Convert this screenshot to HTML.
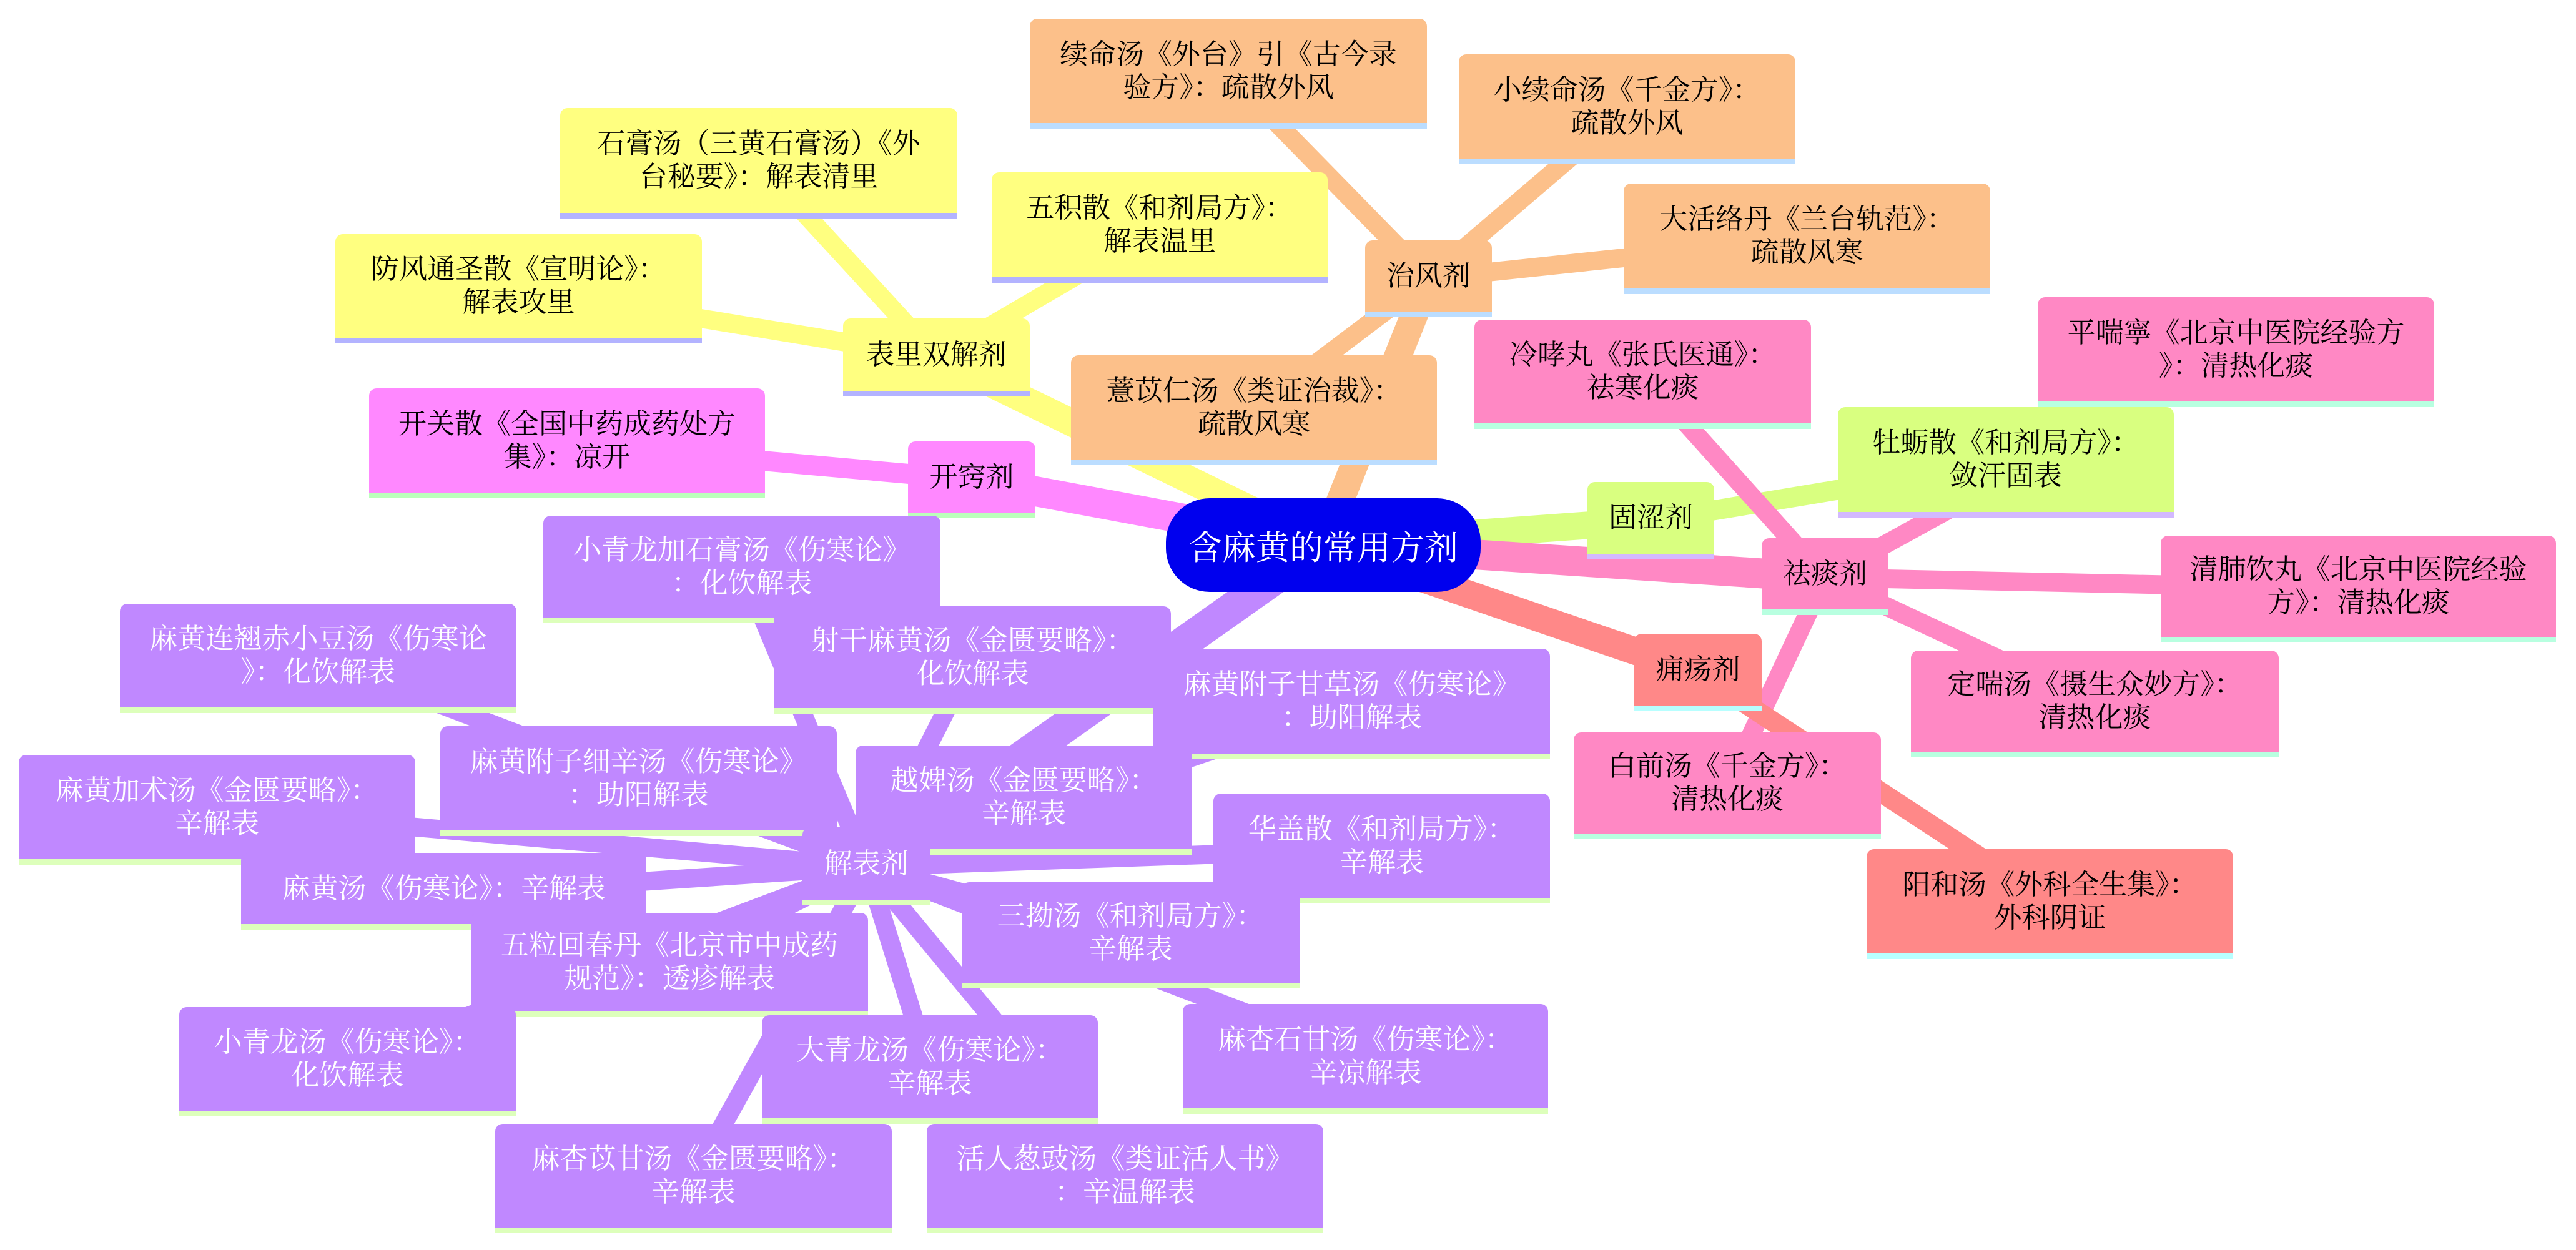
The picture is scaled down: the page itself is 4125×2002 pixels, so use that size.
<!DOCTYPE html>
<html><head><meta charset="utf-8">
<style>
html,body{margin:0;padding:0;background:#fff;}
body{width:4125px;height:2002px;position:relative;overflow:hidden;font-family:"Liberation Serif","Noto Serif CJK SC",serif;}
.n{position:absolute;box-sizing:border-box;display:flex;align-items:center;justify-content:center;text-align:center;font-size:45px;line-height:53px;color:#000;border-radius:12px 12px 0 0;border-bottom:9px solid;padding:0 8px;}
.y{background:#ffff80;border-color:#b3b3ff;}
.o{background:#fcc08a;border-color:#bbddff;}
.m{background:#ff88ff;border-color:#bbffbb;}
.p{background:#c088ff;border-color:#ddffbb;color:#fff;}
.l{background:#d9ff80;border-color:#d3b9ff;}
.k{background:#ff88c4;border-color:#b8ffe0;}
.s{background:#ff8888;border-color:#b8ffff;}
</style></head><body>
<svg width="4125" height="2002" style="position:absolute;left:0;top:0">
<g stroke-linecap="butt" fill="none">
<!-- center edges -->
<line x1="2118" y1="872" x2="1500" y2="572" stroke="#ffff80" stroke-width="44"/>
<line x1="2118" y1="872" x2="2288" y2="446" stroke="#fcc08a" stroke-width="44"/>
<line x1="2118" y1="872" x2="1556" y2="768" stroke="#ff88ff" stroke-width="48"/>
<line x1="2118" y1="872" x2="1388" y2="1388" stroke="#c088ff" stroke-width="52"/>
<line x1="2118" y1="872" x2="2644" y2="834" stroke="#d9ff80" stroke-width="44"/>
<line x1="2118" y1="872" x2="2922" y2="925" stroke="#ff88c4" stroke-width="48"/>
<line x1="2118" y1="872" x2="2719" y2="1077" stroke="#ff8888" stroke-width="44"/>
<!-- 表里 -->
<g stroke="#ffff80" stroke-width="30">
<line x1="1500" y1="572" x2="830" y2="462"/>
<line x1="1500" y1="572" x2="1215" y2="262"/>
<line x1="1500" y1="572" x2="1857" y2="364"/>
</g>
<g stroke="#fcc08a" stroke-width="30">
<line x1="2288" y1="446" x2="1967" y2="118"/>
<line x1="2288" y1="446" x2="2605" y2="175"/>
<line x1="2288" y1="446" x2="2893" y2="382"/>
<line x1="2288" y1="446" x2="2008" y2="657"/>
</g>
<line x1="1556" y1="768" x2="908" y2="710" stroke="#ff88ff" stroke-width="32"/>
<line x1="2644" y1="834" x2="3212" y2="740" stroke="#d9ff80" stroke-width="32"/>
<g stroke="#ff88c4" stroke-width="30">
<line x1="2922" y1="925" x2="2630" y2="600"/>
<line x1="2922" y1="925" x2="3580" y2="564"/>
<line x1="2922" y1="925" x2="3776" y2="943"/>
<line x1="2922" y1="925" x2="3354" y2="1127"/>
<line x1="2922" y1="925" x2="2766" y2="1258"/>
</g>
<line x1="2719" y1="1077" x2="3281" y2="1445" stroke="#ff8888" stroke-width="32"/>
<g stroke="#c088ff" stroke-width="30">
<line x1="1388" y1="1388" x2="1188" y2="910"/>
<line x1="1388" y1="1388" x2="510" y2="1054"/>
<line x1="1388" y1="1388" x2="1557" y2="1055"/>
<line x1="1388" y1="1388" x2="2164" y2="1127"/>
<line x1="1388" y1="1388" x2="1022" y2="1251"/>
<line x1="1388" y1="1388" x2="347" y2="1297"/>
<line x1="1388" y1="1388" x2="1640" y2="1281"/>
<line x1="1388" y1="1388" x2="2212" y2="1359"/>
<line x1="1388" y1="1388" x2="710" y2="1433"/>
<line x1="1388" y1="1388" x2="1810" y2="1503"/>
<line x1="1388" y1="1388" x2="1072" y2="1545"/>
<line x1="1388" y1="1388" x2="556" y2="1700"/>
<line x1="1388" y1="1388" x2="1489" y2="1713"/>
<line x1="1388" y1="1388" x2="2186" y2="1696"/>
<line x1="1388" y1="1388" x2="1110" y2="1887"/>
<line x1="1388" y1="1388" x2="1801" y2="1887"/>
</g>
</g>
</svg>

<!-- yellow -->
<div class="n y" style="left:537px;top:375px;width:587px;height:175px">防风通圣散《宣明论》：<br>解表攻里</div>
<div class="n y" style="left:897px;top:173px;width:636px;height:177px">石膏汤（三黄石膏汤）《外<br>台秘要》：解表清里</div>
<div class="n y" style="left:1588px;top:276px;width:538px;height:177px">五积散《和剂局方》：<br>解表温里</div>
<div class="n y" style="left:1350px;top:510px;width:299px;height:125px">表里双解剂</div>
<!-- orange -->
<div class="n o" style="left:1649px;top:30px;width:636px;height:176px">续命汤《外台》引《古今录<br>验方》：疏散外风</div>
<div class="n o" style="left:2336px;top:87px;width:539px;height:176px">小续命汤《千金方》：<br>疏散外风</div>
<div class="n o" style="left:2600px;top:294px;width:587px;height:177px">大活络丹《兰台轨范》：<br>疏散风寒</div>
<div class="n o" style="left:1715px;top:569px;width:586px;height:176px">薏苡仁汤《类证治裁》：<br>疏散风寒</div>
<div class="n o" style="left:2186px;top:385px;width:203px;height:123px">治风剂</div>
<!-- magenta -->
<div class="n m" style="left:591px;top:622px;width:634px;height:176px">开关散《全国中药成药处方<br>集》：凉开</div>
<div class="n m" style="left:1454px;top:707px;width:204px;height:123px">开窍剂</div>
<!-- pink -->
<div class="n k" style="left:2361px;top:512px;width:539px;height:175px">冷哮丸《张氏医通》：<br>祛寒化痰</div>
<div class="n k" style="left:3263px;top:476px;width:635px;height:176px">平喘寧《北京中医院经验方<br>》：清热化痰</div>
<div class="n k" style="left:3460px;top:858px;width:633px;height:171px">清肺饮丸《北京中医院经验<br>方》：清热化痰</div>
<div class="n k" style="left:3060px;top:1042px;width:589px;height:171px">定喘汤《摄生众妙方》：<br>清热化痰</div>
<div class="n k" style="left:2520px;top:1173px;width:492px;height:171px">白前汤《千金方》：<br>清热化痰</div>
<div class="n k" style="left:2821px;top:862px;width:203px;height:123px">祛痰剂</div>
<!-- lime -->
<div class="n l" style="left:2943px;top:652px;width:538px;height:177px">牡蛎散《和剂局方》：<br>敛汗固表</div>
<div class="n l" style="left:2542px;top:772px;width:203px;height:124px">固涩剂</div>
<!-- salmon -->
<div class="n s" style="left:2617px;top:1015px;width:204px;height:124px">痈疡剂</div>
<div class="n s" style="left:2989px;top:1360px;width:587px;height:176px">阳和汤《外科全生集》：<br>外科阴证</div>
<!-- purple -->
<div class="n p" style="left:870px;top:826px;width:636px;height:172px">小青龙加石膏汤《伤寒论》<br>：化饮解表</div>
<div class="n p" style="left:192px;top:967px;width:635px;height:175px">麻黄连翘赤小豆汤《伤寒论<br>》：化饮解表</div>
<div class="n p" style="left:1240px;top:971px;width:635px;height:172px">射干麻黄汤《金匮要略》：<br>化饮解表</div>
<div class="n p" style="left:1847px;top:1039px;width:635px;height:177px">麻黄附子甘草汤《伤寒论》<br>：助阳解表</div>
<div class="n p" style="left:705px;top:1163px;width:635px;height:176px">麻黄附子细辛汤《伤寒论》<br>：助阳解表</div>
<div class="n p" style="left:30px;top:1209px;width:635px;height:176px">麻黄加术汤《金匮要略》：<br>辛解表</div>
<div class="n p" style="left:1370px;top:1194px;width:539px;height:175px">越婢汤《金匮要略》：<br>辛解表</div>
<div class="n p" style="left:1943px;top:1271px;width:539px;height:176px">华盖散《和剂局方》：<br>辛解表</div>
<div class="n p" style="left:1285px;top:1325px;width:205px;height:125px">解表剂</div>
<div class="n p" style="left:386px;top:1366px;width:649px;height:123px">麻黄汤《伤寒论》：辛解表</div>
<div class="n p" style="left:754px;top:1462px;width:636px;height:167px">五粒回春丹《北京市中成药<br>规范》：透疹解表</div>
<div class="n p" style="left:1540px;top:1413px;width:541px;height:170px">三拗汤《和剂局方》：<br>辛解表</div>
<div class="n p" style="left:287px;top:1613px;width:539px;height:175px">小青龙汤《伤寒论》：<br>化饮解表</div>
<div class="n p" style="left:1220px;top:1626px;width:538px;height:174px">大青龙汤《伤寒论》：<br>辛解表</div>
<div class="n p" style="left:1894px;top:1608px;width:585px;height:176px">麻杏石甘汤《伤寒论》：<br>辛凉解表</div>
<div class="n p" style="left:793px;top:1800px;width:635px;height:175px">麻杏苡甘汤《金匮要略》：<br>辛解表</div>
<div class="n p" style="left:1484px;top:1800px;width:635px;height:175px">活人葱豉汤《类证活人书》<br>：辛温解表</div>
<!-- center -->
<div style="position:absolute;left:1867px;top:798px;width:504px;height:150px;background:#0000ee;border-radius:70px;color:#fff;font-size:54px;display:flex;align-items:center;justify-content:center;">含麻黄的常用方剂</div>
</body></html>
